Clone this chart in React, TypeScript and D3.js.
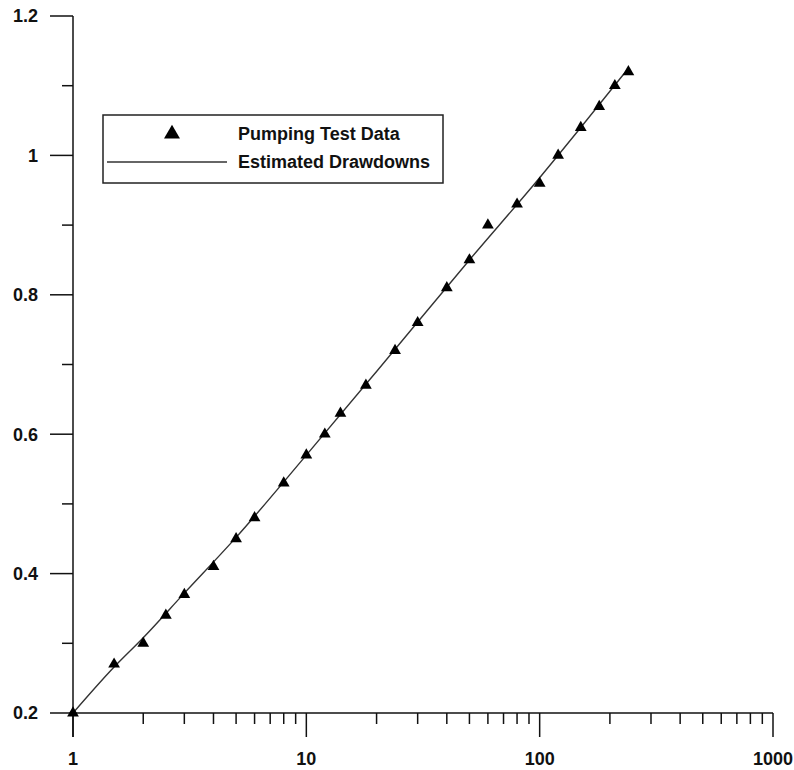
import React from 'react';
import * as d3 from 'd3';

// pumping test observations: time vs drawdown
const testTimes = [1, 1.5, 2, 2.5, 3, 4, 5, 6, 8, 10, 12, 14, 18, 24, 30, 40, 50, 60, 80, 100, 120, 150, 180, 210, 240];
const testDrawdowns = [0.2, 0.27, 0.3, 0.34, 0.37, 0.41, 0.45, 0.48, 0.53, 0.57, 0.6, 0.63, 0.67, 0.72, 0.76, 0.81, 0.85, 0.9, 0.93, 0.96, 1.0, 1.04, 1.07, 1.1, 1.12];

// estimated (model) curve
const estTimes = [1, 1.5, 2, 3, 5, 10, 20, 50, 100, 150, 240];
const estDrawdowns = [0.2, 0.266, 0.308, 0.372, 0.452, 0.57, 0.69, 0.85, 0.968, 1.04, 1.125];

const yMajorTicks = [0.2, 0.4, 0.6, 0.8, 1, 1.2];
const yMinorTicks = [0.3, 0.5, 0.7, 0.9, 1.1];
const xMajorTicks = [1, 10, 100, 1000];

const legendLabels = ['Pumping Test Data', 'Estimated Drawdowns'];

const W = 794;
const H = 770;
const FONT = '"Liberation Sans", Arial, sans-serif';

export default function App() {
  const x = d3.scaleLog().domain([1, 1000]).range([73, 773]);
  const y = d3.scaleLinear().domain([0.2, 1.2]).range([713, 16]);

  // minor x ticks 2..9 in each decade
  const xMinorTicks: number[] = [];
  for (const d of [1, 10, 100]) {
    for (let k = 2; k <= 9; k++) xMinorTicks.push(d * k);
  }

  const line = d3
    .line<[number, number]>()
    .x(d => x(d[0]))
    .y(d => y(d[1]))
    .curve(d3.curveMonotoneX);
  const estPts = estTimes.map((t, i) => [t, estDrawdowns[i]] as [number, number]);

  const tri = d3.symbol().type(d3.symbolTriangle).size(60)();
  const legendTri = d3.symbol().type(d3.symbolTriangle).size(110)();

  return (
    <svg
      width={W}
      height={H}
      style={{ position: 'absolute', left: 0, top: 0, background: '#fff' }}
      fontFamily={FONT}
    >
      {/* axes */}
      <line x1={73} x2={73} y1={y(1.2)} y2={737} stroke="#111" strokeWidth={1.5} />
      <line x1={73} x2={x(1000)} y1={713} y2={713} stroke="#111" strokeWidth={1.5} />

      {yMajorTicks.map(v => (
        <g key={'ym' + v}>
          <line x1={50} x2={73} y1={y(v)} y2={y(v)} stroke="#111" strokeWidth={1.5} />
          <text
            x={38}
            y={y(v)}
            dy="0.36em"
            textAnchor="end"
            fontSize={18}
            fontWeight="bold"
            fill="#111"
          >
            {d3.format('~g')(v)}
          </text>
        </g>
      ))}
      {yMinorTicks.map(v => (
        <line key={'yn' + v} x1={62} x2={73} y1={y(v)} y2={y(v)} stroke="#111" strokeWidth={1.5} />
      ))}

      {xMajorTicks.map(v => (
        <g key={'xm' + v}>
          <line x1={x(v)} x2={x(v)} y1={713} y2={737} stroke="#111" strokeWidth={1.5} />
          <text
            x={x(v)}
            y={765}
            textAnchor="middle"
            fontSize={18}
            fontWeight="bold"
            fill="#111"
          >
            {v}
          </text>
        </g>
      ))}
      {xMinorTicks.map(v => (
        <line key={'xn' + v} x1={x(v)} x2={x(v)} y1={713} y2={724} stroke="#111" strokeWidth={1.5} />
      ))}

      {/* estimated drawdown curve */}
      <path d={line(estPts) || ''} fill="none" stroke="#333" strokeWidth={1.4} />

      {/* pumping test data */}
      {testTimes.map((t, i) => (
        <path
          key={'p' + i}
          d={tri || ''}
          transform={`translate(${x(t)},${y(testDrawdowns[i])})`}
          fill="#000"
        />
      ))}

      {/* legend */}
      <rect x={103} y={115} width={340} height={68} fill="#fff" stroke="#222" strokeWidth={1.5} />
      <path d={legendTri || ''} transform="translate(172,134)" fill="#000" />
      <line x1={107} x2={227} y1={162} y2={162} stroke="#333" strokeWidth={1.4} />
      <text x={238} y={140} fontSize={18} fontWeight="bold" fill="#111">
        {legendLabels[0]}
      </text>
      <text x={238} y={168} fontSize={18} fontWeight="bold" fill="#111">
        {legendLabels[1]}
      </text>
    </svg>
  );
}
